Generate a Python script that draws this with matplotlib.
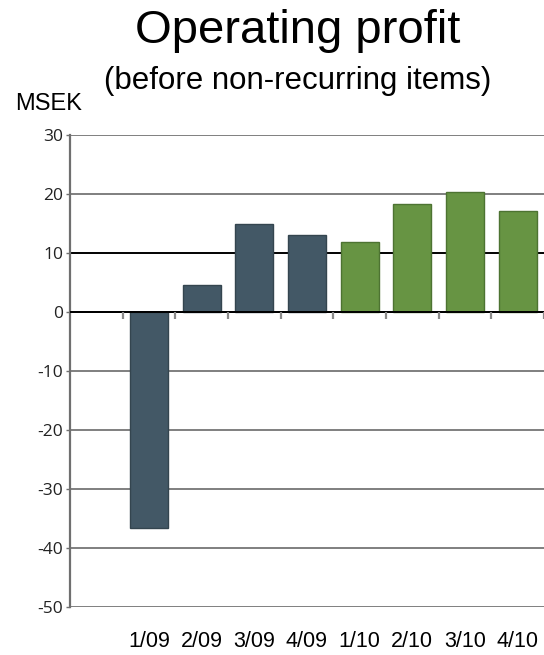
import matplotlib
matplotlib.use("Agg")
import matplotlib.pyplot as plt
import numpy as np

# Quarterly operating profit, MSEK
quarters = ["1/09", "2/09", "3/09", "4/09", "1/10", "2/10", "3/10", "4/10"]
profit = [-36.6, 4.5, 15.0, 13.1, 11.8, 18.3, 20.3, 17.1]
years = ["09", "09", "09", "09", "10", "10", "10", "10"]
y_ticks = [30, 20, 10, 0, -10, -20, -30, -40, -50]

year_colors = {"09": "#435866", "10": "#679443"}
year_edges = {"09": "#34454f", "10": "#4d7332"}

W, H = 544, 655
fig = plt.figure(figsize=(W / 100, H / 100), dpi=100)
ax = fig.add_axes([70 / W, 1 - 607 / H, (W - 70) / W, (607 - 135) / H])

x = np.arange(len(quarters))

# horizontal grid lines behind the bars
for v in y_ticks:
    c = "#000000" if v in (0, 10) else "#7f7f7f"
    ax.axhline(v, color=c, lw=1.4, zorder=1)

ax.bar(x, profit, width=0.72,
       color=[year_colors[y] for y in years],
       edgecolor=[year_edges[y] for y in years],
       linewidth=1.0, zorder=2)

# zero line and divider ticks between quarters
ax.axhline(0, color="#000000", lw=1.4, zorder=3)
for b in np.arange(-0.5, len(quarters), 1.0):
    ax.plot([b, b], [0, -1.15], color="#8a8a8a", lw=1.6, zorder=3,
            solid_capstyle="butt", clip_on=True)

ax.set_xlim(-1.5, len(quarters) - 0.5)
ax.set_ylim(-50, 30)

for s in ["top", "right", "bottom"]:
    ax.spines[s].set_visible(False)
ax.spines["left"].set_color("#6f6f6f")
ax.spines["left"].set_linewidth(1.6)

ax.set_yticks(y_ticks)
ax.set_yticklabels([str(v) for v in y_ticks], family="Open Sans", fontsize=12.5,
                   color="#222222")
ax.tick_params(axis="y", length=3, width=1, color="#6f6f6f", pad=2)

ax.set_xticks(x)
ax.set_xticklabels(quarters, family="Liberation Sans", fontsize=15.5)
ax.tick_params(axis="x", length=0, pad=17)

fig.text(0.547, 1 - 31 / H, "Operating profit", ha="center", va="center",
         family="Liberation Sans", fontsize=34)
fig.text(0.548, 1 - 81 / H, "(before non-recurring items)", ha="center",
         va="center", family="Liberation Sans", fontsize=22.5)
fig.text(15 / W, 1 - 104 / H, "MSEK", ha="left", va="center",
         family="Liberation Sans", fontsize=17)

fig.savefig("out.png", dpi=100)
